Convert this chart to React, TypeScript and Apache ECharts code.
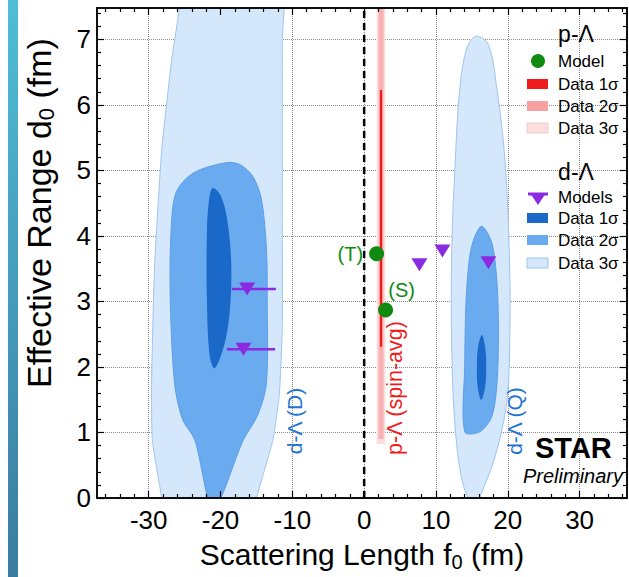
import React, { useEffect, useRef } from "react";
import * as echarts from "echarts";

// ---------- axis ranges & ticks ----------
const X_RANGE = [-37.2, 36.6];
const Y_RANGE = [0, 7.48];
const xMajorTicks = [-30, -20, -10, 0, 10, 20, 30];
const xMinorTicks = [-36, -34, -32, -28, -26, -24, -22, -18, -16, -14, -12, -8, -6, -4, -2, 2, 4, 6, 8, 12, 14, 16, 18, 22, 24, 26, 28, 32, 34, 36];
const yMajorTicks = [0, 1, 2, 3, 4, 5, 6, 7];
const yMinorTicks = [0.2, 0.4, 0.6, 0.8, 1.2, 1.4, 1.6, 1.8, 2.2, 2.4, 2.6, 2.8, 3.2, 3.4, 3.6, 3.8, 4.2, 4.4, 4.6, 4.8, 5.2, 5.4, 5.6, 5.8, 6.2, 6.4, 6.6, 6.8, 7.2, 7.4];

// ---------- d-Λ contours (f0, d0) ----------
const dLamLeft3Sigma: number[][] = [
  [-25.3, 8.2], [-25.7, 7.5], [-26.8, 6.69], [-28.2, 5.3], [-29.2, 3.49], [-29.6, 1.76], [-29.5, 0.89], [-28.2, 0.0],
  [-27.7, -0.5], [-16.0, -0.5], [-15.0, 0.0], [-12.7, 0.89], [-11.8, 1.6], [-11.4, 2.6], [-11.4, 4.0], [-11.4, 5.5],
  [-11.4, 7.0], [-11.4, 8.2],
];
const dLamLeft2Sigma: number[][] = [
  [-19.2, 5.12], [-17.3, 5.09], [-15.5, 4.91], [-14.3, 4.56], [-13.6, 3.8], [-13.5, 3.03], [-13.6, 1.76], [-14.8, 1.27],
  [-16.8, 0.89], [-21.0, -0.15], [-23.6, 0.89], [-25.3, 1.2], [-26.4, 1.75], [-27.0, 3.03], [-26.9, 4.05],
  [-26.2, 4.66], [-23.8, 4.96],
];
const dLamLeft1Sigma: number[][] = [
  [-21.1, 4.73], [-19.9, 4.6], [-19.0, 4.2], [-18.5, 3.54], [-18.7, 2.87], [-19.4, 2.37], [-20.8, 1.98],
  [-21.5, 2.16], [-21.9, 3.03], [-21.9, 4.05], [-21.6, 4.55],
];
const dLamRight3Sigma: number[][] = [
  [15.6, 7.05], [17.3, 6.92], [18.5, 6.23], [19.6, 5.16], [20.2, 3.79], [20.3, 2.57], [19.9, 1.5], [18.5, 0.74],
  [16.8, 0.2], [15.3, -0.1], [13.8, 0.2], [12.7, 1.04], [12.2, 2.27], [12.2, 3.79], [12.7, 5.16], [13.3, 6.23], [14.3, 6.87],
];
const dLamRight2Sigma: number[][] = [
  [16.4, 4.15], [17.8, 3.89], [18.5, 3.28], [18.7, 2.52], [18.5, 1.76], [17.8, 1.25], [16.1, 1.01], [14.0, 1.01],
  [14.0, 2.01], [14.2, 3.03], [14.7, 3.69], [15.4, 3.99],
];
const dLamRight1Sigma: number[][] = [
  [16.4, 2.49], [16.85, 2.3], [17.0, 2.0], [16.85, 1.7], [16.3, 1.5], [15.8, 1.7], [15.7, 2.0], [15.85, 2.3],
];

// ---------- p-Λ bands ----------
const pLamBand3Sigma: number[][] = [[1.75, 0.82], [2.95, 0.82], [2.95, 7.6], [1.75, 7.6]];
const pLamBand2Sigma: number[][] = [[2.0, 0.9], [2.7, 0.9], [2.7, 7.6], [2.0, 7.6]];
const pLamBand1Sigma: number[][] = [[2.2, 2.31], [2.5, 2.31], [2.5, 6.23], [2.2, 6.23]];

// ---------- models ----------
const pLamModels: number[][] = [[1.73, 3.73], [2.98, 2.87]];
const pLamModelLabels = ["(T)", "(S)"];
const dLamModels: number[][] = [[-16.3, 3.19], [-16.8, 2.27], [7.7, 3.56], [10.9, 3.77], [17.3, 3.59]];
const dLamModelErrors: number[][] = [[-18.4, -12.3, 3.19], [-19.1, -12.4, 2.27]]; // [low, high, d0]
const zeroLineX = 0;

const FONT = "Liberation Sans, Arial, Helvetica, sans-serif";
const C = {
  blue3: "#d5e7fb", blue3Edge: "#9ec5ef",
  blue2: "#6aabf0", blue2Edge: "#5d9fe8",
  blue1: "#1a69c9",
  pink3: "#fcdede", pink2: "#f8b0b0", red1: "#ef1b1b",
  green: "#118a11", purple: "#8a2be2",
  labelBlue: "#2273d2", labelRed: "#ee1c1c",
};

function polygonSeries(name: string, pts: number[][], fill: string, stroke: string | null, smooth: number) {
  return {
    type: "custom",
    name,
    xAxisIndex: 0,
    yAxisIndex: 0,
    clip: true,
    silent: true,
    data: pts,
    renderItem: (params: any, api: any) => {
      if (params.dataIndex !== 0) return null;
      const points = pts.map((p) => api.coord(p));
      return {
        type: "polygon",
        shape: { points, smooth },
        style: { fill, stroke: stroke || "none", lineWidth: stroke ? 1 : 0 },
      };
    },
  };
}

const GRID = { left: 97, top: 8, width: 530, height: 490, outerBoundsMode: "none", containLabel: false };

function tickAxis(kind: "x" | "y", gridIndex: number, position: string, values: number[], len: number) {
  const range = kind === "x" ? X_RANGE : Y_RANGE;
  return {
    type: "value",
    gridIndex,
    position,
    min: range[0],
    max: range[1],
    z: 10,
    axisLine: { show: true, onZero: false, lineStyle: { color: "#000", width: 1.5 } },
    axisTick: { show: true, inside: true, length: len, customValues: values, lineStyle: { color: "#000", width: 1.2 } },
    axisLabel: { show: false },
    splitLine: { show: false },
  };
}

const subRich = {
  sub: { fontSize: 20, lineHeight: 14, verticalAlign: "bottom", fontFamily: FONT, color: "#000" },
};

const option: any = {
  animation: false,
  backgroundColor: "#fff",
  grid: [GRID, GRID, GRID],
  xAxis: [
    {
      type: "value",
      gridIndex: 0,
      position: "bottom",
      min: X_RANGE[0],
      max: X_RANGE[1],
      z: 0,
      axisLine: { show: false, onZero: false },
      axisTick: { show: false, customValues: xMajorTicks },
      axisLabel: { customValues: xMajorTicks, fontSize: 26, color: "#000", fontFamily: FONT, margin: 9 },
      splitLine: { show: true, lineStyle: { color: "#8a8a8a", type: "dotted", width: 1 } },
      name: "Scattering Length f{sub|0} (fm)",
      nameLocation: "middle",
      nameGap: 34,
      nameTextStyle: { fontSize: 30, color: "#000", fontFamily: FONT, lineHeight: 34, rich: subRich },
    },
    tickAxis("x", 1, "bottom", xMajorTicks, 7),
    tickAxis("x", 1, "top", xMajorTicks, 7),
    tickAxis("x", 2, "bottom", xMinorTicks, 4),
    tickAxis("x", 2, "top", xMinorTicks, 4),
  ],
  yAxis: [
    {
      type: "value",
      gridIndex: 0,
      position: "left",
      min: Y_RANGE[0],
      max: Y_RANGE[1],
      z: 0,
      axisLine: { show: false, onZero: false },
      axisTick: { show: false, customValues: yMajorTicks },
      axisLabel: { customValues: yMajorTicks, fontSize: 26, color: "#000", fontFamily: FONT, margin: 6 },
      splitLine: { show: true, lineStyle: { color: "#8a8a8a", type: "dotted", width: 1 } },
    },
    tickAxis("y", 1, "left", yMajorTicks, 7),
    tickAxis("y", 1, "right", yMajorTicks, 7),
    tickAxis("y", 2, "left", yMinorTicks, 4),
    tickAxis("y", 2, "right", yMinorTicks, 4),
  ],
  series: [
    polygonSeries("d-Λ left 3σ", dLamLeft3Sigma, C.blue3, C.blue3Edge, 0.15),
    polygonSeries("d-Λ left 2σ", dLamLeft2Sigma, C.blue2, C.blue2Edge, 0.3),
    polygonSeries("d-Λ left 1σ", dLamLeft1Sigma, C.blue1, null, 0.35),
    polygonSeries("d-Λ right 3σ", dLamRight3Sigma, C.blue3, C.blue3Edge, 0.35),
    polygonSeries("d-Λ right 2σ", dLamRight2Sigma, C.blue2, C.blue2Edge, 0.3),
    polygonSeries("d-Λ right 1σ", dLamRight1Sigma, C.blue1, null, 0.35),
    polygonSeries("p-Λ 3σ", pLamBand3Sigma, C.pink3, null, 0),
    polygonSeries("p-Λ 2σ", pLamBand2Sigma, C.pink2, null, 0),
    polygonSeries("p-Λ 1σ", pLamBand1Sigma, C.red1, null, 0),
    {
      type: "line",
      name: "zero",
      xAxisIndex: 0,
      yAxisIndex: 0,
      data: [[zeroLineX, Y_RANGE[0]], [zeroLineX, Y_RANGE[1]]],
      symbol: "none",
      silent: true,
      lineStyle: { color: "#000", width: 2.5, type: [7, 5] },
      z: 3,
    },
    {
      type: "custom",
      name: "d-Λ model errors",
      xAxisIndex: 0,
      yAxisIndex: 0,
      data: dLamModelErrors,
      silent: true,
      z: 4,
      renderItem: (params: any, api: any) => {
        const a = api.coord([api.value(0), api.value(2)]);
        const b = api.coord([api.value(1), api.value(2)]);
        return {
          type: "line",
          shape: { x1: a[0], y1: a[1], x2: b[0], y2: b[1] },
          style: { stroke: C.purple, lineWidth: 2.5 },
        };
      },
      encode: { x: [0, 1], y: 2 },
    },
    {
      type: "scatter",
      name: "d-Λ Models",
      xAxisIndex: 0,
      yAxisIndex: 0,
      data: dLamModels,
      symbol: "triangle",
      symbolRotate: 180,
      symbolSize: [16, 13],
      itemStyle: { color: C.purple, opacity: 1 },
      z: 5,
    },
    {
      type: "scatter",
      name: "p-Λ Model",
      xAxisIndex: 0,
      yAxisIndex: 0,
      data: pLamModels.map((p, i) => ({
        value: p,
        label: {
          show: true,
          formatter: pLamModelLabels[i],
          position: i === 0 ? "left" : "top",
          distance: i === 0 ? 6 : 4,
          offset: i === 0 ? [0, 0] : [16, 2],
          color: C.green,
          fontSize: 20,
          fontFamily: FONT,
        },
      })),
      symbol: "circle",
      symbolSize: 15,
      itemStyle: { color: C.green, opacity: 1 },
      z: 6,
    },
  ],
  graphic: [
    {
      type: "rect",
      shape: { x: 8, y: 0, width: 10, height: 577 },
      style: {
        fill: new echarts.graphic.LinearGradient(0, 0, 0, 1, [
          { offset: 0, color: "#50bdd6" },
          { offset: 1, color: "#3a7ca0" },
        ]),
      },
      silent: true,
    },
    {
      type: "text", x: 39, y: 213, rotation: Math.PI / 2, z: 20,
      style: {
        text: "{n|Effective Range d}{s|0}{n| (fm)}",
        rich: {
          n: { fontSize: 34, fontFamily: FONT, fill: "#000", lineHeight: 37 },
          s: { fontSize: 22, fontFamily: FONT, fill: "#000", lineHeight: 14, verticalAlign: "bottom" },
        },
        align: "center",
        verticalAlign: "middle",
      },
    },
    {
      type: "text", x: 294, y: 421, rotation: Math.PI / 2, z: 20,
      style: { text: "d-Λ (D)", fill: C.labelBlue, fontSize: 21, fontFamily: FONT, align: "center", verticalAlign: "middle" },
    },
    {
      type: "text", x: 395, y: 388, rotation: Math.PI / 2, z: 20,
      style: { text: "p-Λ (spin-avg)", fill: C.labelRed, fontSize: 21.5, fontFamily: FONT, align: "center", verticalAlign: "middle" },
    },
    {
      type: "text", x: 514, y: 421, rotation: Math.PI / 2, z: 20,
      style: { text: "d-Λ (Q)", fill: C.labelBlue, fontSize: 21, fontFamily: FONT, align: "center", verticalAlign: "middle" },
    },
    {
      type: "text", x: 535, y: 448, z: 20,
      style: { text: "STAR", fill: "#000", fontSize: 29, fontWeight: "bold", fontFamily: FONT, align: "left", verticalAlign: "middle", lineHeight: 26 },
    },
    {
      type: "text", x: 623, y: 476, z: 20,
      style: { text: "Preliminary", fill: "#000", fontSize: 20, fontStyle: "italic", fontFamily: FONT, align: "right", verticalAlign: "middle", lineHeight: 18 },
    },
    // legend: p-Λ
    {
      type: "text", x: 576, y: 34, z: 20,
      style: { text: "p-Λ", fill: "#000", fontSize: 23, fontFamily: FONT, align: "center", verticalAlign: "middle" },
    },
    { type: "circle", shape: { cx: 538, cy: 61, r: 7 }, style: { fill: C.green }, z: 20 },
    { type: "text", x: 558, y: 61, z: 20, style: { text: "Model", fill: "#000", fontSize: 17, fontFamily: FONT, verticalAlign: "middle" } },
    { type: "rect", shape: { x: 527, y: 79, width: 21, height: 10 }, style: { fill: C.red1 }, z: 20 },
    { type: "text", x: 558, y: 84, z: 20, style: { text: "Data 1σ", fill: "#000", fontSize: 17, fontFamily: FONT, verticalAlign: "middle" } },
    { type: "rect", shape: { x: 527, y: 101, width: 21, height: 10 }, style: { fill: "#f9a0a0" }, z: 20 },
    { type: "text", x: 558, y: 106, z: 20, style: { text: "Data 2σ", fill: "#000", fontSize: 17, fontFamily: FONT, verticalAlign: "middle" } },
    { type: "rect", shape: { x: 527, y: 123, width: 21, height: 10 }, style: { fill: C.pink3, stroke: "#f6caca", lineWidth: 1 }, z: 20 },
    { type: "text", x: 558, y: 128, z: 20, style: { text: "Data 3σ", fill: "#000", fontSize: 17, fontFamily: FONT, verticalAlign: "middle" } },
    // legend: d-Λ
    {
      type: "text", x: 576, y: 172, z: 20,
      style: { text: "d-Λ", fill: "#000", fontSize: 23, fontFamily: FONT, align: "center", verticalAlign: "middle" },
    },
    { type: "line", shape: { x1: 528, y1: 194, x2: 548, y2: 194 }, style: { stroke: C.purple, lineWidth: 3 }, z: 20 },
    { type: "polygon", shape: { points: [[530, 193], [546, 193], [538, 205]] }, style: { fill: C.purple }, z: 20 },
    { type: "text", x: 558, y: 197, z: 20, style: { text: "Models", fill: "#000", fontSize: 17, fontFamily: FONT, verticalAlign: "middle" } },
    { type: "rect", shape: { x: 527, y: 213, width: 21, height: 10 }, style: { fill: C.blue1 }, z: 20 },
    { type: "text", x: 558, y: 218, z: 20, style: { text: "Data 1σ", fill: "#000", fontSize: 17, fontFamily: FONT, verticalAlign: "middle" } },
    { type: "rect", shape: { x: 527, y: 235, width: 21, height: 10 }, style: { fill: C.blue2 }, z: 20 },
    { type: "text", x: 558, y: 240, z: 20, style: { text: "Data 2σ", fill: "#000", fontSize: 17, fontFamily: FONT, verticalAlign: "middle" } },
    { type: "rect", shape: { x: 527, y: 258, width: 21, height: 10 }, style: { fill: C.blue3, stroke: C.blue3Edge, lineWidth: 1 }, z: 20 },
    { type: "text", x: 558, y: 263, z: 20, style: { text: "Data 3σ", fill: "#000", fontSize: 17, fontFamily: FONT, verticalAlign: "middle" } },
  ],
};

export default function App() {
  const ref = useRef<HTMLDivElement>(null);
  useEffect(() => {
    if (!ref.current) return;
    const chart = echarts.init(ref.current, null, { renderer: "svg" });
    chart.setOption(option);
    return () => chart.dispose();
  }, []);
  return (
    <div
      ref={ref}
      style={{ position: "fixed", left: 0, top: 0, width: 629, height: 577, background: "#fff" }}
    />
  );
}
